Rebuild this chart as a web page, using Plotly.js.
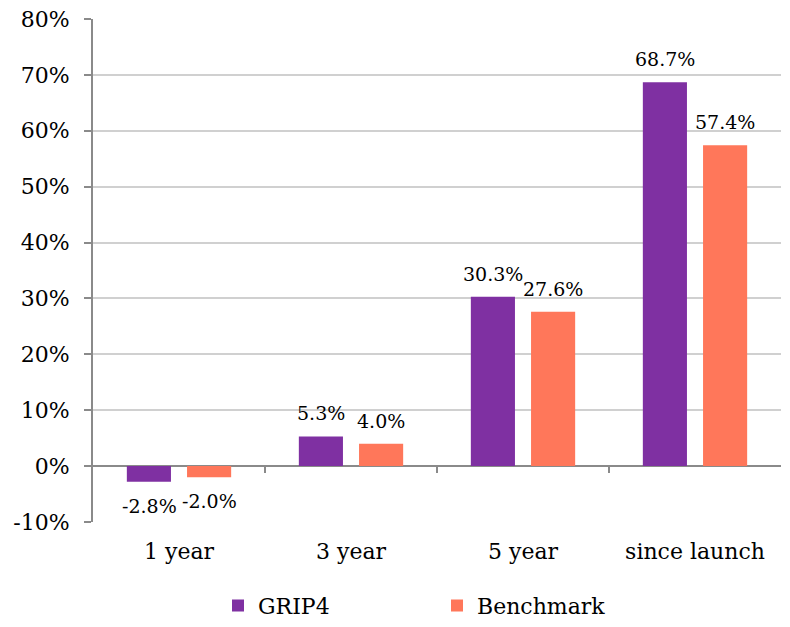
<!DOCTYPE html>
<html>
<head>
<meta charset="utf-8">
<script src="https://cdn.plot.ly/plotly-3.0.1.min.js"></script>
<style>html,body{margin:0;padding:0;background:#fff;}#chart{width:790px;height:627px;}</style>
</head>
<body>
<div id="chart"></div>
<script>
const categories = ["1 year", "3 year", "5 year", "since launch"];
const grip4 = [-2.8, 5.3, 30.3, 68.7];
const benchmark = [-2.0, 4.0, 27.6, 57.4];
const seriesNames = ["GRIP4", "Benchmark"];
const yTickVals = [-10, 0, 10, 20, 30, 40, 50, 60, 70, 80];
const yTickText = ["-10%", "0%", "10%", "20%", "30%", "40%", "50%", "60%", "70%", "80%"];

const FONT = "Georgia, 'DejaVu Serif', serif";
const colors = ["#7F30A2", "#FF775A"];

const traces = [grip4, benchmark].map((vals, i) => ({
  type: "bar",
  name: seriesNames[i],
  x: categories,
  y: vals,
  marker: {color: colors[i]},
  hoverinfo: "none"
}));

const annotations = [];
[grip4, benchmark].forEach((vals, i) => {
  vals.forEach((v, j) => {
    annotations.push({
      x: categories[j], y: v, xref: "x", yref: "y",
      text: v.toFixed(1) + "%",
      showarrow: false,
      xshift: i === 0 ? -30 : 30,
      yanchor: v >= 0 ? "bottom" : "top",
      yshift: v >= 0 ? 10 : -11,
      font: {family: FONT, size: 19, color: "#000"}
    });
  });
});

const layout = {
  width: 790, height: 627,
  margin: {l: 93, r: 9, t: 19, b: 105, autoexpand: false},
  paper_bgcolor: "#fff", plot_bgcolor: "#fff",
  font: {family: FONT, size: 22, color: "#000"},
  barmode: "group",
  bargap: 0.30,
  bargroupgap: 0.267,
  showlegend: true,
  legend: {
    orientation: "h", x: 0.5, xanchor: "center",
    yref: "container", y: 0.034, yanchor: "middle",
    font: {family: FONT, size: 22, color: "#000"},
    entrywidth: 174, entrywidthmode: "pixels", itemwidth: 30
  },
  xaxis: {
    automargin: false,
    showline: false, showgrid: false, zeroline: false,
    ticks: "", tickfont: {family: FONT, size: 22},
    ticklabelstandoff: 14
  },
  yaxis: {
    automargin: false,
    range: [-10, 80],
    tickvals: yTickVals, ticktext: yTickText,
    showline: true, linecolor: "#8a8a8a", linewidth: 2,
    ticks: "outside", ticklen: 7, tickcolor: "#8a8a8a", tickwidth: 2,
    showgrid: true, gridcolor: "#d0d0d0", gridwidth: 2,
    zeroline: true, zerolinecolor: "#8a8a8a", zerolinewidth: 2,
    tickfont: {family: FONT, size: 22},
    ticklabelstandoff: 10,
    fixedrange: true
  },
  shapes: [1, 2, 3].map(k => ({
    type: "line", xref: "paper", yref: "y",
    x0: k / 4, x1: k / 4, ysizemode: "pixel", yanchor: 0,
    y0: -7, y1: 0, line: {color: "#8a8a8a", width: 2}
  })),
  annotations: annotations
};

Plotly.newPlot("chart", traces, layout, {displayModeBar: false, staticPlot: true});
</script>
</body>
</html>
